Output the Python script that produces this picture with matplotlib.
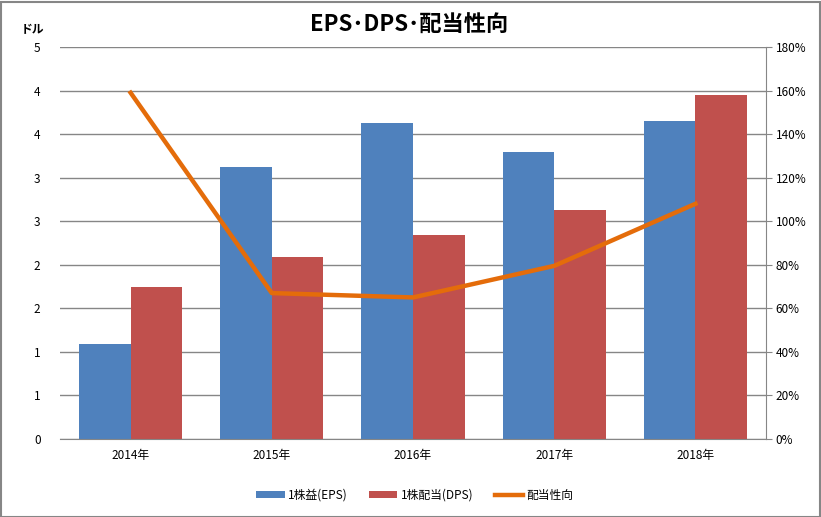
import matplotlib.pyplot as plt
from matplotlib.patches import Rectangle
import numpy as np

plt.rcParams['font.family'] = ['Noto Sans CJK JP', 'DejaVu Sans']

years = ["2014年", "2015年", "2016年", "2017年", "2018年"]
eps = [1.09, 3.12, 3.63, 3.30, 3.65]
dps = [1.745, 2.09, 2.34, 2.63, 3.95]
payout = [159, 67, 65, 79.5, 108]

left_ticks = np.arange(0, 4.51, 0.5)
left_labels = ["0", "1", "1", "2", "2", "3", "3", "4", "4", "5"]
right_ticks = np.arange(0, 181, 20)

W, H = 821, 517
fig = plt.figure(figsize=(W / 100, H / 100), dpi=100)
fig.patches.append(Rectangle((0.5 / W, 0.5 / H), 1 - 2 / W, 1 - 2 / H, transform=fig.transFigure,
                             fill=False, edgecolor='#868686', linewidth=1.5))

ax = fig.add_axes([60 / W, 1 - 439 / H, (766 - 60) / W, (439 - 47) / H])
x = np.arange(len(years))
bw = 0.365
ax.bar(x - bw / 2, eps, bw, color='#4F81BD', label='1株益(EPS)', zorder=2)
ax.bar(x + bw / 2, dps, bw, color='#C0504D', label='1株配当(DPS)', zorder=2)

ax.set_xlim(-0.5, len(years) - 0.5)
ax.set_ylim(0, 4.5)
ax.set_yticks(left_ticks)
ax.set_yticklabels(left_labels)
ax.grid(axis='y', color='#868686', linewidth=1, zorder=0)
ax.set_axisbelow(True)
ax.set_xticks(x)
ax.set_xticklabels(years)
ax.tick_params(axis='x', length=0, labelsize=8.5, pad=7)
ax.tick_params(axis='y', length=0, labelsize=8.5, pad=14)
for s in ['top', 'left', 'right']:
    ax.spines[s].set_visible(False)
ax.spines['bottom'].set_color('#868686')

ax2 = ax.twinx()
ax2.plot(x, payout, color='#E46C0A', linewidth=3.2, label='配当性向', zorder=3)
ax2.set_ylim(0, 180)
ax2.set_yticks(right_ticks)
ax2.set_yticklabels([f"{t}%" for t in right_ticks])
ax2.tick_params(axis='y', length=4, color='#868686', labelsize=8.5, pad=3)
for s in ['top', 'left', 'bottom']:
    ax2.spines[s].set_visible(False)
ax2.spines['right'].set_color('#868686')

fig.text(409 / W, 1 - 25 / H, "EPS･DPS･配当性向", ha='center', va='center',
         fontsize=16, fontweight='bold')
fig.text(32 / W, 1 - 30 / H, "ドル", ha='center', va='center', fontsize=8.5, fontweight='bold')

h1, l1 = ax.get_legend_handles_labels()
h2, l2 = ax2.get_legend_handles_labels()
fig.legend(h1 + h2, l1 + l2, loc='center', bbox_to_anchor=(415 / W, 1 - 495 / H), ncol=3,
           frameon=False, fontsize=8.5, handlelength=2.4, handleheight=0.6, columnspacing=1.8,
           handletextpad=0.3)

fig.savefig('out.png', dpi=100)
